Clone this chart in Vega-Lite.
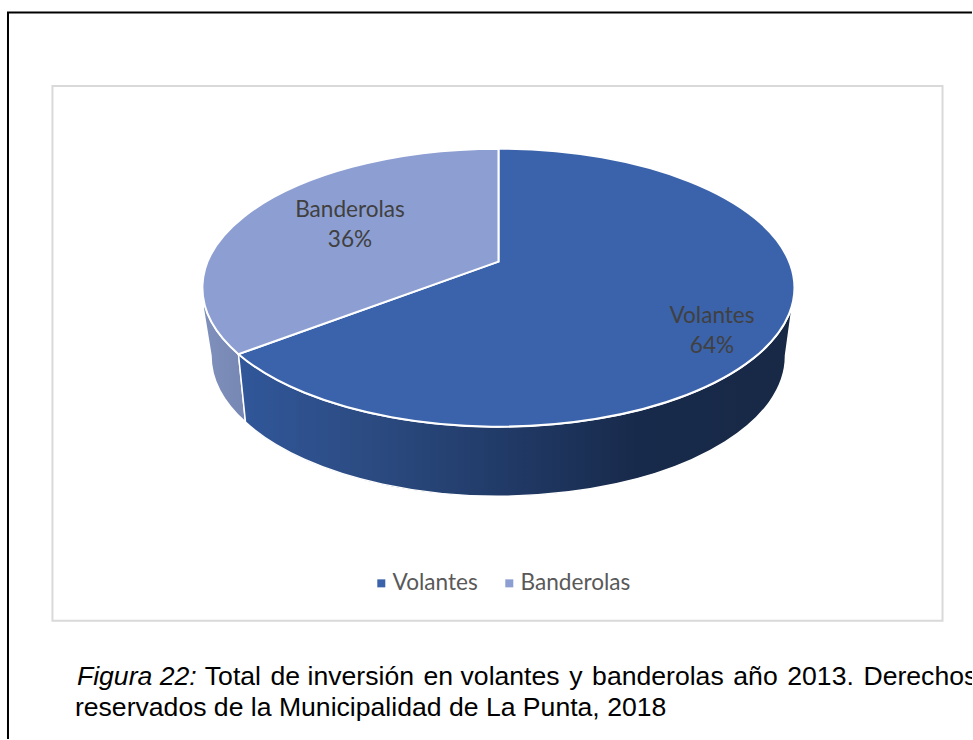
{
  "$schema": "https://vega.github.io/schema/vega-lite/v6.json",
  "width": 973,
  "height": 740,
  "padding": 0,
  "autosize": {"type": "fit", "contains": "padding"},
  "background": "white",
  "config": {"view": {"stroke": null}},
  "datasets": {
    "shares": [
      {"category": "Volantes", "value": 0.64},
      {"category": "Banderolas", "value": 0.36}
    ]
  },
  "data": {"name": "shares"},
  "resolve": {"scale": {"x": "independent", "y": "independent", "color": "independent", "shape": "independent"}},
  "layer": [
    {
      "data": {"values": [{"edge": "frame"}]},
      "mark": {"type": "rule", "color": "#000000", "strokeWidth": 2},
      "encoding": {
        "x": {"datum": 8, "type": "quantitative", "scale": {"domain": [0, 973]}, "axis": null},
        "y": {"datum": 12.5, "type": "quantitative", "scale": {"domain": [0, 740], "reverse": true}, "axis": null},
        "y2": {"datum": 740}
      }
    },
    {
      "data": {"values": [{"edge": "frame"}]},
      "mark": {"type": "rule", "color": "#000000", "strokeWidth": 2},
      "encoding": {
        "x": {"datum": 7, "type": "quantitative", "scale": {"domain": [0, 973]}, "axis": null},
        "x2": {"datum": 973},
        "y": {"datum": 12.5, "type": "quantitative", "scale": {"domain": [0, 740], "reverse": true}, "axis": null}
      }
    },
    {
      "data": {"values": [{"edge": "chart area"}]},
      "mark": {"type": "rect", "fill": "white", "stroke": "#d9d9d9", "strokeWidth": 2},
      "encoding": {
        "x": {"datum": 52.5, "type": "quantitative", "scale": {"domain": [0, 973]}, "axis": null},
        "x2": {"datum": 943.5},
        "y": {"datum": 86, "type": "quantitative", "scale": {"domain": [0, 740], "reverse": true}, "axis": null},
        "y2": {"datum": 621.5}
      }
    },
    {
      "transform": [{"filter": "datum.category === 'Banderolas'"}],
      "mark": {
        "type": "point",
        "filled": true,
        "size": 4,
        "opacity": 1,
        "stroke": "white",
        "strokeWidth": 1.5,
        "fill": {"gradient": "linear", "x1": 0, "y1": 0, "x2": 1, "y2": 0, "stops": [
          {"offset": 0, "color": "#7f90bc"},
          {"offset": 1, "color": "#7587b2"}
        ]},
        "shape": "M-296,26 L-295,48 L-287.5,94 A287,140 0 0 0 -253,160.5 L-260,92.5 A296,139 0 0 1 -296,26 Z"
      },
      "encoding": {
        "x": {"datum": 499, "type": "quantitative", "scale": {"domain": [0, 973]}, "axis": null},
        "y": {"datum": 262, "type": "quantitative", "scale": {"domain": [0, 740], "reverse": true}, "axis": null}
      }
    },
    {
      "transform": [{"filter": "datum.category === 'Volantes'"}],
      "mark": {
        "type": "point",
        "filled": true,
        "size": 4,
        "opacity": 1,
        "stroke": "white",
        "strokeWidth": 1.5,
        "fill": {"gradient": "linear", "x1": 0, "y1": 0, "x2": 1, "y2": 0, "stops": [
          {"offset": 0, "color": "#31579a"},
          {"offset": 0.25, "color": "#2b4a80"},
          {"offset": 0.5, "color": "#203965"},
          {"offset": 0.72, "color": "#182a4b"},
          {"offset": 1, "color": "#172945"}
        ]},
        "shape": "M294,43 L287,94 A287,140 0 0 1 -253,160.5 L-260,92.5 A296,139 0 0 0 294,43 Z"
      },
      "encoding": {
        "x": {"datum": 499, "type": "quantitative", "scale": {"domain": [0, 973]}, "axis": null},
        "y": {"datum": 262, "type": "quantitative", "scale": {"domain": [0, 740], "reverse": true}, "axis": null}
      }
    },
    {
      "mark": {"type": "point", "filled": true, "size": 4, "opacity": 1, "stroke": "white", "strokeWidth": 2},
      "encoding": {
        "x": {"datum": 499, "type": "quantitative", "scale": {"domain": [0, 973]}, "axis": null},
        "y": {"datum": 262, "type": "quantitative", "scale": {"domain": [0, 740], "reverse": true}, "axis": null},
        "shape": {
          "field": "category",
          "type": "nominal",
          "legend": null,
          "scale": {
            "domain": ["Volantes", "Banderolas"],
            "range": [
              "M0,0 L0,-113 A296,139 0 1 1 -260,92.5 Z",
              "M0,0 L-260,92.5 A296,139 0 0 1 0,-113 Z"
            ]
          }
        },
        "color": {
          "field": "category",
          "type": "nominal",
          "legend": null,
          "scale": {"domain": ["Volantes", "Banderolas"], "range": ["#3b63ab", "#8d9fd2"]}
        }
      }
    },
    {
      "mark": {"type": "square", "size": 0, "opacity": 1},
      "encoding": {
        "x": {"datum": 499, "type": "quantitative", "scale": {"domain": [0, 973]}, "axis": null},
        "y": {"datum": 262, "type": "quantitative", "scale": {"domain": [0, 740], "reverse": true}, "axis": null},
        "color": {
          "field": "category",
          "type": "nominal",
          "scale": {"domain": ["Volantes", "Banderolas"], "range": ["#3b63ab", "#8d9fd2"]},
          "legend": {
            "title": null,
            "orient": "none",
            "direction": "horizontal",
            "legendX": 370,
            "legendY": 572,
            "symbolType": "square",
            "symbolSize": 64,
            "symbolStrokeWidth": 0,
            "labelFont": "Lato",
            "labelFontSize": 22.6,
            "labelColor": "#595959",
            "labelOffset": 0,
            "columnPadding": 20,
            "padding": 0
          }
        }
      }
    },
    {
      "mark": {"type": "text", "font": "Lato", "fontSize": 22.6, "color": "#404040", "align": "center", "baseline": "middle"},
      "encoding": {
        "x": {"field": "category", "type": "nominal", "axis": null, "scale": {"domain": ["Volantes", "Banderolas"], "range": [712, 350], "padding": 0}},
        "y": {"field": "category", "type": "nominal", "axis": null, "scale": {"domain": ["Volantes", "Banderolas"], "range": [316, 210], "padding": 0}},
        "text": {"field": "category", "type": "nominal"}
      }
    },
    {
      "mark": {"type": "text", "font": "Lato", "fontSize": 22.6, "color": "#404040", "align": "center", "baseline": "middle"},
      "encoding": {
        "x": {"field": "category", "type": "nominal", "axis": null, "scale": {"domain": ["Volantes", "Banderolas"], "range": [712, 350], "padding": 0}},
        "y": {"field": "category", "type": "nominal", "axis": null, "scale": {"domain": ["Volantes", "Banderolas"], "range": [346, 240], "padding": 0}},
        "text": {"field": "value", "type": "quantitative", "format": ".0%"}
      }
    },
    {
      "data": {"values": [{"text": "Figura 22:"}]},
      "mark": {"type": "text", "font": "Liberation Sans", "fontSize": 26.6, "fontStyle": "italic", "color": "#000000", "align": "left", "baseline": "alphabetic"},
      "encoding": {
        "x": {"datum": 77, "type": "quantitative", "scale": {"domain": [0, 973]}, "axis": null},
        "y": {"datum": 686, "type": "quantitative", "scale": {"domain": [0, 740], "reverse": true}, "axis": null},
        "text": {"field": "text", "type": "nominal"}
      }
    },
    {
      "data": {"values": [{"text": "Total \u200ade inversión \u200aen volantes \u200ay \u200abanderolas \u200aaño \u200a2013. \u200aDerechos"}]},
      "mark": {"type": "text", "font": "Liberation Sans", "fontSize": 26.6, "color": "#000000", "align": "left", "baseline": "alphabetic", "clip": true},
      "encoding": {
        "x": {"datum": 205, "type": "quantitative", "scale": {"domain": [0, 973]}, "axis": null},
        "y": {"datum": 686, "type": "quantitative", "scale": {"domain": [0, 740], "reverse": true}, "axis": null},
        "text": {"field": "text", "type": "nominal"}
      }
    },
    {
      "data": {"values": [{"text": "reservados de la Municipalidad de La Punta, 2018"}]},
      "mark": {"type": "text", "font": "Liberation Sans", "fontSize": 26.6, "color": "#000000", "align": "left", "baseline": "alphabetic"},
      "encoding": {
        "x": {"datum": 75, "type": "quantitative", "scale": {"domain": [0, 973]}, "axis": null},
        "y": {"datum": 717, "type": "quantitative", "scale": {"domain": [0, 740], "reverse": true}, "axis": null},
        "text": {"field": "text", "type": "nominal"}
      }
    }
  ]
}
